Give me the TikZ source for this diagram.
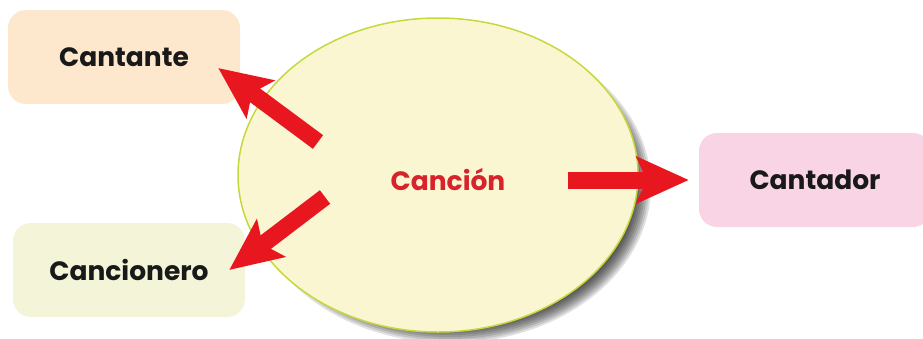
\documentclass[tikz,border=0pt]{standalone}
\usepackage{fontspec}
\setmainfont{Poppins}
\usetikzlibrary{shapes.geometric, positioning, arrows.meta, calc}

\definecolor{peach}{HTML}{FDE8CE}
\definecolor{lime}{HTML}{F3F4D8}
\definecolor{pink}{HTML}{F8D4E4}
\definecolor{cream}{HTML}{FBF6D2}
\definecolor{rim}{HTML}{C5D93C}
\definecolor{arrowred}{HTML}{E8161F}
\definecolor{wordred}{HTML}{D7232B}

\begin{document}
\begin{tikzpicture}[
    x=1pt, y=-1pt,
    every node/.style={font=\fontsize{26.5}{30}\selectfont\bfseries},
    topic/.style={rounded corners=18pt, minimum width=232pt, minimum height=94pt, text=black!90},
    bigarrow/.style={draw=arrowred, line width=17pt, -{Stealth[length=52pt, width=46pt, inset=10pt]}}
]
\useasboundingbox (0,0) rectangle (923,338);

% soft shadow under the word circle
\foreach \s in {0,2,...,14}
    \fill[black, opacity=0.12] (450,186) ellipse ({201-\s} and {157-\s});

% centre word
\node[ellipse, draw=rim, line width=1.5pt, fill=cream, minimum width=400pt, minimum height=314pt,
      text=wordred] (cancion) at (438,175) {};
\node[text=wordred] (word) at (448,180) {Canción};

% related words
\node[topic, fill=peach] (cantante) at (124,57) {Cantante};
\node[topic, fill=lime] (cancionero) at (129,270) {Cancionero};
\node[topic, fill=pink] (cantador) at (815,180) {Cantador};

% arrows out of the circle
\coordinate (t1) at ($(cancion.center)+(-120,-33)$);
\coordinate (t2) at ($(cancion.center)+(-113,22)$);
\coordinate (t3) at ($(cancion.center)+(130,5)$);
\draw[bigarrow] (t1) -- ($(cantante.east)+(-22,11)$);
\draw[bigarrow] (t2) -- ($(cancionero.east)+(-16,0)$);
\draw[bigarrow] (t3) -- ($(cantador.west)+(-10,0)$);

\end{tikzpicture}
\end{document}
